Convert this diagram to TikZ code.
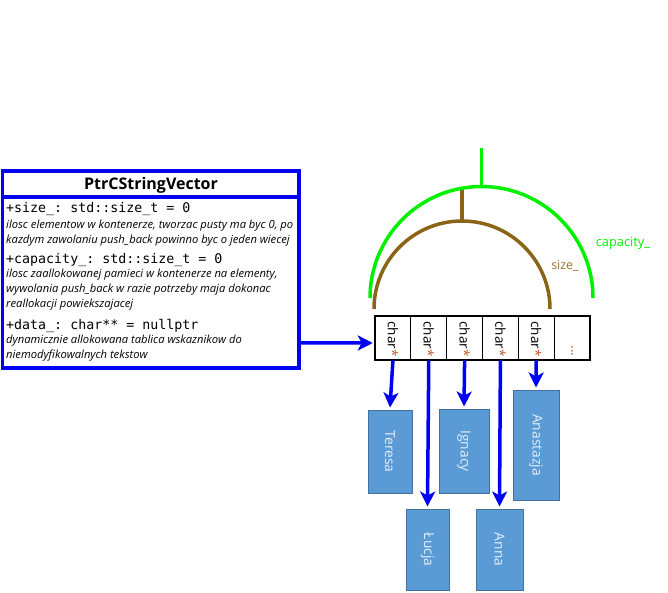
\documentclass[tikz,border=0pt]{standalone}
\usepackage{fontspec}
\setmainfont{Open Sans}
\setmonofont{DejaVu Sans Mono}
\usetikzlibrary{arrows.meta,calc}
\definecolor{umlblue}{RGB}{0,0,245}
\definecolor{capgreen}{RGB}{0,240,0}
\definecolor{sizebrown}{RGB}{139,101,23}
\definecolor{sizetxt}{RGB}{150,115,50}
\definecolor{boxfill}{RGB}{91,155,213}
\definecolor{boxline}{RGB}{65,113,156}
\definecolor{boxtxt}{RGB}{228,238,248}
\definecolor{startxt}{RGB}{190,90,40}
\begin{document}
\begin{tikzpicture}[x=1pt,y=-1pt,
  mono/.style={anchor=base west,inner sep=0pt,font=\ttfamily\fontsize{13.3}{15}\selectfont},
  desc/.style={anchor=base west,inner sep=0pt,font=\itshape\fontsize{11.2}{13}\selectfont},
  cell/.style={draw=black,line width=0.8pt,minimum width=35.83pt,minimum height=44pt,inner sep=0pt,anchor=center},
  cellt/.style={rotate=-90,font=\fontsize{13.5}{15}\selectfont,inner sep=0pt},
  namebox/.style={draw=boxline,line width=1pt,fill=boxfill,inner sep=0pt},
  nametxt/.style={rotate=-90,text=boxtxt,font=\fontsize{13.8}{16}\selectfont},
  arr/.style={draw=umlblue,line width=3.5pt,-{Stealth[length=15pt,width=15pt,inset=4pt]}},
]
\useasboundingbox (0,0) rectangle (668,592);
% class box
\node[draw=umlblue,line width=3.5pt,minimum width=296.5pt,minimum height=197pt,inner sep=0pt] (cls) at (150.75,269.5) {};
\node[draw=umlblue,line width=3.5pt,minimum width=296.5pt,minimum height=26pt,inner sep=0pt] (clstitle) at (150.75,184) {};
\node[font=\bfseries\fontsize{16}{18}\selectfont] (title) at (151,185) {PtrCStringVector};
\node[mono] (l1) at (6,212.5) {+size\_: std::size\_t = 0};
\node[desc] (l2) at (6,228) {ilosc elementow w kontenerze, tworzac pusty ma byc 0, po};
\node[desc] (l3) at (6,243) {kazdym zawolaniu push\_back powinno byc o jeden wiecej};
\node[mono] (l4) at (6,263.5) {+capacity\_: std::size\_t = 0};
\node[desc] (l5) at (6,277.5) {ilosc zaallokowanej pamieci w kontenerze na elementy,};
\node[desc] (l6) at (6,292.5) {wywolania push\_back w razie potrzeby maja dokonac};
\node[desc] (l7) at (6,307.5) {reallokacji powiekszajacej};
\node[mono] (l8) at (6,329.5) {+data\_: char** = nullptr};
\node[desc] (l9) at (6,343) {dynamicznie allokowana tablica wskaznikow do};
\node[desc] (l10) at (6,358) {niemodyfikowalnych tekstow};
% array cells
\foreach \i/\x in {1/392.92,2/428.75,3/464.58,4/500.42,5/536.25,6/572.08}{
  \node[cell] (c\i) at (\x,338) {};
}
\foreach \i in {1,...,5}{
  \node[cellt] (ct\i) at ($(c\i)+(0,1)$) {char\textcolor{startxt}{*}};
}
\node[cellt,text=startxt] (dots) at ($(c6)+(0,13)$) {...};
\node[draw=black,line width=2.5pt,minimum width=215pt,minimum height=44pt,inner sep=0pt] (arr) at (482.5,338) {};
% arcs
\draw[sizebrown,line width=3.5pt] (374,309) arc[start angle=180,end angle=360,radius=88];
\coordinate (stop) at (462,221);
\coordinate (stip) at (462,190);
\draw[sizebrown,line width=3.5pt] (stop) -- (stip);
\draw[capgreen,line width=3.5pt] (370,298) arc[start angle=180,end angle=360,radius=111.5];
\coordinate (ctop) at (481.5,186.5);
\coordinate (ctip) at (481.5,148);
\draw[capgreen,line width=3.5pt] (ctop) -- (ctip);
\node[text=sizetxt,font=\fontsize{12.4}{14}\selectfont] (sizel) at (565,266) {size\_};
\node[text=capgreen,font=\fontsize{12.8}{14}\selectfont] (capl) at (623,243) {capacity\_};
% name boxes
\node[namebox,minimum width=44pt,minimum height=83pt] (teresa) at (390,451.5) {};
\node[nametxt] at (teresa) {Teresa};
\node[namebox,minimum width=50pt,minimum height=84pt] (ignacy) at (464,451) {};
\node[nametxt] at (ignacy) {Ignacy};
\node[namebox,minimum width=46pt,minimum height=110pt] (anast) at (536,445) {};
\node[nametxt] at (anast) {Anastazja};
\node[namebox,minimum width=43pt,minimum height=81pt] (lucja) at (427.5,549.5) {};
\node[nametxt] at (lucja) {Łucja};
\node[namebox,minimum width=47pt,minimum height=81pt] (anna) at (499.5,549.5) {};
\node[nametxt] at (anna) {Anna};
% arrows
\draw[arr] ($(cls.south east)+(0,-27)$) -- ($(arr.west)+(-1,5)$);
\draw[arr] (c1.south) -- ($(teresa.north)+(0,-2)$);
\draw[arr] (c2.south) -- ($(lucja.north)+(0,-2)$);
\draw[arr] (c3.south) -- ($(ignacy.north)+(0,-2)$);
\draw[arr] (c4.south) -- ($(anna.north)+(0,-2)$);
\draw[arr] (c5.south) -- ($(anast.north)+(0,-2)$);
\end{tikzpicture}
\end{document}
